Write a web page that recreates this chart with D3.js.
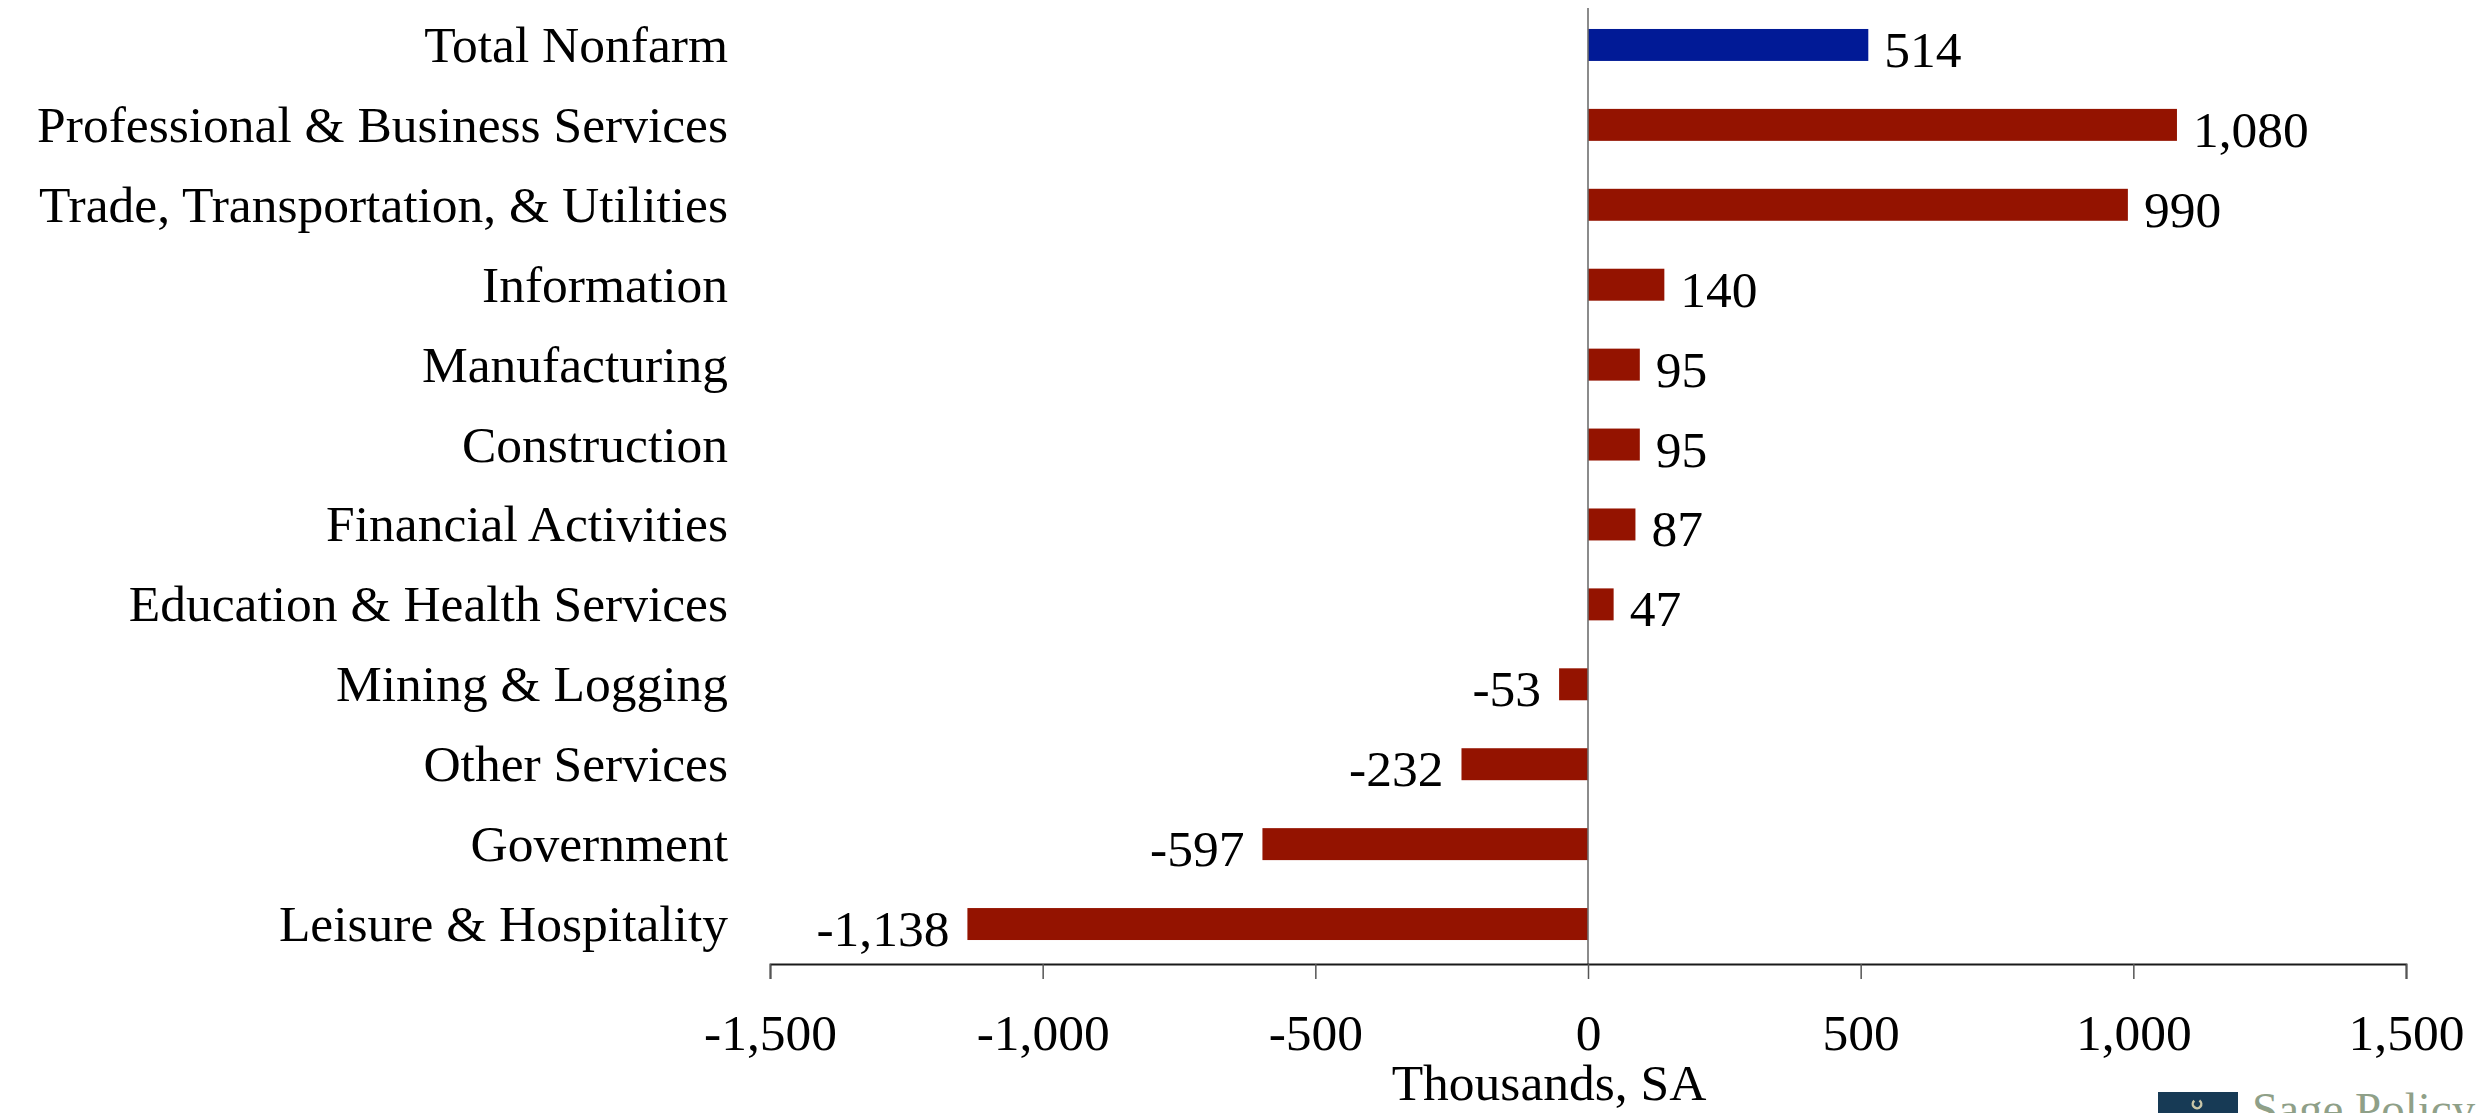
<!DOCTYPE html>
<html>
<head>
<meta charset="utf-8">
<script src="https://cdn.jsdelivr.net/npm/d3@7"></script>
<style>
  html, body { margin: 0; padding: 0; background: #ffffff; }
  svg { display: block; }
  text { font-family: "Liberation Serif", "Times New Roman", serif; fill: #000; }
</style>
</head>
<body>
<svg id="chart" width="2479" height="1113"></svg>
<script>
// Employment change by sector, thousands of jobs (seasonally adjusted)
const categories = [
  "Total Nonfarm",
  "Professional & Business Services",
  "Trade, Transportation, & Utilities",
  "Information",
  "Manufacturing",
  "Construction",
  "Financial Activities",
  "Education & Health Services",
  "Mining & Logging",
  "Other Services",
  "Government",
  "Leisure & Hospitality"
];
const values = [514, 1080, 990, 140, 95, 95, 87, 47, -53, -232, -597, -1138];
const tickValues = [-1500, -1000, -500, 0, 500, 1000, 1500];
const axisTitle = "Thousands, SA";
const brandName = "Sage Policy";

const data = categories.map((c, i) => ({ name: c, value: values[i] }));

const svg = d3.select("#chart");
const fmt = d3.formatLocale({ decimal: ".", thousands: ",", grouping: [3], currency: ["", ""], minus: "-" }).format(",");

const x = d3.scaleLinear().domain([-1500, 1500]).range([770, 2406]);
const y = d3.scaleBand().domain(categories).range([5, 964]).paddingInner(0.6).paddingOuter(0.3);
const axisY = 964;

const BLUE = "#011a96";
const RED = "#941300";
const FS = 51.5;

// bars
svg.append("g").selectAll("rect")
  .data(data)
  .join("rect")
  .attr("x", d => x(Math.min(0, d.value)))
  .attr("y", d => y(d.name))
  .attr("width", d => Math.abs(x(d.value) - x(0)))
  .attr("height", y.bandwidth())
  .attr("fill", (d, i) => i === 0 ? BLUE : RED);

// zero line
svg.append("line")
  .attr("x1", x(0)).attr("x2", x(0))
  .attr("y1", 8).attr("y2", axisY)
  .attr("stroke", "#6e6e6e").attr("stroke-width", 1.6);

// category labels
svg.append("g").selectAll("text")
  .data(data)
  .join("text")
  .attr("x", 728)
  .attr("y", d => y(d.name) + y.bandwidth() / 2 + 17)
  .attr("text-anchor", "end")
  .style("font-size", FS + "px")
  .text(d => d.name);

// value labels
svg.append("g").selectAll("text")
  .data(data)
  .join("text")
  .attr("x", d => d.value >= 0 ? x(d.value) + 16 : x(d.value) - 18)
  .attr("y", d => y(d.name) + y.bandwidth() / 2 + 22)
  .attr("text-anchor", d => d.value >= 0 ? "start" : "end")
  .style("font-size", FS + "px")
  .text(d => fmt(d.value));

// x axis
const xAxis = d3.axisBottom(x)
  .tickValues(tickValues)
  .tickFormat(fmt)
  .tickSize(15)
  .tickPadding(34);

const gx = svg.append("g")
  .attr("transform", `translate(0,${axisY})`)
  .call(xAxis);
gx.select(".domain").attr("stroke", "#1a1a1a").attr("stroke-width", 1.8);
gx.selectAll(".tick line").attr("stroke", "#555").attr("stroke-width", 1.5);
gx.selectAll(".tick text")
  .attr("font-family", null)
  .style("font-size", FS + "px")
  .attr("fill", "#000");

// axis title
svg.append("text")
  .attr("x", 1549)
  .attr("y", 1100)
  .attr("text-anchor", "middle")
  .style("font-size", FS + "px")
  .text(axisTitle);

// brand mark
const brand = svg.append("g");
brand.append("rect")
  .attr("x", 2158).attr("y", 1092)
  .attr("width", 80).attr("height", 40)
  .attr("fill", "#173a55");
brand.append("path")
  .attr("d", d3.arc()({ innerRadius: 3, outerRadius: 5.5, startAngle: 0.6, endAngle: 5.6 }))
  .attr("transform", "translate(2197,1104)")
  .attr("fill", "#c9c6a8");
brand.append("text")
  .attr("x", 2252)
  .attr("y", 1125)
  .style("font-size", "47px")
  .style("fill", "#8fa088")
  .text(brandName);
</script>
</body>
</html>
